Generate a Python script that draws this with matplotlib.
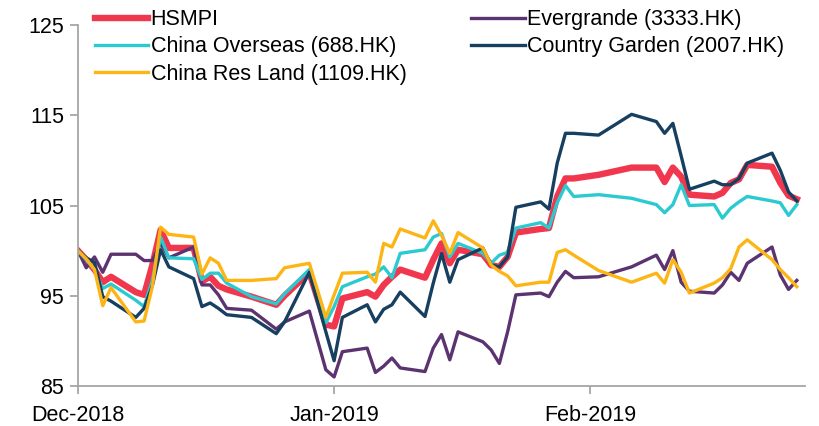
import matplotlib
matplotlib.use("Agg")
import matplotlib.pyplot as plt
import matplotlib.dates as mdates
import pandas as pd

dates = (
    ["2018-12-%02d" % d for d in [3, 4, 5, 6, 7, 10, 11, 12, 13, 14, 17, 18, 19, 20, 21, 24, 27, 28, 31]]
    + ["2019-01-%02d" % d for d in [2, 3, 4, 7, 8, 9, 10, 11, 14, 15, 16, 17, 18, 21, 22, 23, 24, 25, 28, 29, 30, 31]]
    + ["2019-02-%02d" % d for d in [1, 4, 8, 11, 12, 13, 14, 15, 18, 19, 20, 21, 22, 25, 26, 27, 28]]
)

hsmpi = [100, 99.0, 97.9, 96.5, 97.1, 95.4, 95.1, 98.4, 102.3, 100.3, 100.3, 96.6, 97.1, 96.1, 95.7, 94.9, 94.0, 95.0, 97.6,
         91.8, 91.6, 94.7, 95.4, 94.9, 96.2, 97.1, 97.9, 97.0, 99.0, 100.8, 98.6, 100.1, 99.6, 98.4, 98.2, 99.3, 102.0, 102.4, 102.5, 106.0, 108.0,
         108.0, 108.4, 109.2, 109.2, 107.6, 109.2, 108.2, 106.2, 106.0, 106.4, 107.5, 107.9, 109.5, 109.3, 107.5, 106.1, 105.7]

evergrande = [100, 98.1, 99.3, 97.6, 99.6, 99.6, 98.9, 98.9, 100.8, 99.2, 100.4, 96.2, 96.2, 95.1, 93.6, 93.4, 91.3, 92.1, 93.3,
              86.8, 86.0, 88.8, 89.2, 86.5, 87.2, 88.1, 87.0, 86.6, 89.2, 90.7, 87.9, 91.0, 89.9, 89.0, 87.5, 91.0, 95.1, 95.3, 94.9, 96.5, 97.7,
              97.0, 97.1, 98.2, 99.5, 97.9, 100.0, 96.5, 95.5, 95.3, 96.2, 97.6, 96.7, 98.6, 100.4, 97.3, 95.7, 96.7]

china_overseas = [100, 99.0, 97.9, 95.8, 96.3, 94.5, 93.8, 96.7, 101.5, 99.2, 99.1, 96.8, 97.5, 97.5, 96.4, 94.9, 94.1, 95.2, 97.9,
                  92.0, 93.8, 96.0, 97.1, 97.4, 98.2, 97.0, 99.7, 100.1, 101.5, 101.9, 99.3, 100.8, 99.7, 98.6, 99.5, 99.8, 102.5, 103.1, 102.5, 105.3, 107.2,
                  106.0, 106.2, 105.8, 105.1, 104.2, 105.1, 107.3, 105.0, 105.1, 103.6, 104.7, 105.4, 106.0, 105.5, 105.3, 103.9, 105.1]

country_garden = [100, 99.2, 98.7, 94.9, 94.4, 92.6, 93.6, 96.1, 100.1, 98.2, 96.9, 93.8, 94.2, 93.6, 92.9, 92.6, 90.8, 92.1, 97.6,
                  91.0, 87.8, 92.6, 94.0, 92.1, 93.5, 94.0, 95.4, 92.7, 96.4, 99.7, 96.5, 99.0, 100.3, 98.4, 98.2, 99.3, 104.8, 105.4, 104.6, 109.7, 113.0,
                  113.0, 112.8, 115.1, 114.3, 113.0, 114.1, 110.5, 106.8, 107.7, 107.3, 107.3, 108.0, 109.7, 110.8, 108.9, 106.5, 105.5]

cr_land = [100, 99.1, 97.9, 93.9, 95.9, 92.1, 92.2, 96.0, 102.6, 101.8, 101.5, 97.4, 99.2, 98.6, 96.7, 96.7, 96.9, 98.1, 98.6,
           92.6, 95.1, 97.5, 97.6, 96.5, 100.8, 100.4, 102.4, 101.4, 103.3, 101.7, 99.7, 102.0, 100.3, 98.4, 97.7, 97.2, 96.1, 96.5, 96.5, 99.8, 100.1,
           99.5, 97.8, 96.5, 97.5, 96.4, 99.0, 97.6, 95.3, 96.4, 97.0, 98.0, 100.4, 101.2, 99.0, 97.9, 97.0, 96.0]

labels = ["HSMPI", "Evergrande (3333.HK)", "China Overseas (688.HK)",
          "Country Garden (2007.HK)", "China Res Land (1109.HK)"]
y_ticks = [85, 95, 105, 115, 125]
x_tick_dates = ["2018-12-03", "2019-01-03", "2019-02-03"]

x = pd.to_datetime(dates)

plt.rcParams['font.family'] = ['Liberation Sans', 'DejaVu Sans']

fig = plt.figure(figsize=(8.19, 4.26), dpi=100)
ax = fig.add_axes([0.0952, 0.0939, 0.8878, 0.8474])

series = [hsmpi, evergrande, china_overseas, country_garden, cr_land]
colors = ["#F0374E", "#5B3371", "#2BCAD0", "#163F60", "#FDB515"]
widths = [4.6, 2.4, 2.4, 2.4, 2.4]
handles = []
for s, c, w, lab in zip(series, colors, widths, labels):
    h, = ax.plot(x, s, color=c, lw=w, label=lab, solid_joinstyle='round')
    handles.append(h)

ax.set_ylim(85, 125)
ax.set_yticks(y_ticks)
ax.set_xlim(pd.Timestamp("2018-12-03"), pd.Timestamp("2019-03-01"))
ax.set_xticks(pd.to_datetime(x_tick_dates))
ax.xaxis.set_major_formatter(mdates.DateFormatter("%b-%Y"))

for side in ["top", "right"]:
    ax.spines[side].set_visible(False)
for side in ["left", "bottom"]:
    ax.spines[side].set_color("#A6A6A6")
    ax.spines[side].set_linewidth(1.3)
ax.tick_params(axis="both", colors="#A6A6A6", labelcolor="black", labelsize=15.5,
               length=6, width=1.3, direction="out")
ax.tick_params(axis="x", pad=8)
ax.tick_params(axis="y", pad=4)

order = [0, 2, 4, 1, 3]
leg = fig.legend([handles[i] for i in order], [labels[i] for i in order],
                 loc="upper left", bbox_to_anchor=(0.105, 0.998), ncol=2,
                 frameon=False, fontsize=15.5, handlelength=2.5, handletextpad=0.1,
                 columnspacing=3.0, labelspacing=0.28, borderaxespad=0)

fig.savefig("out.png", dpi=100)
